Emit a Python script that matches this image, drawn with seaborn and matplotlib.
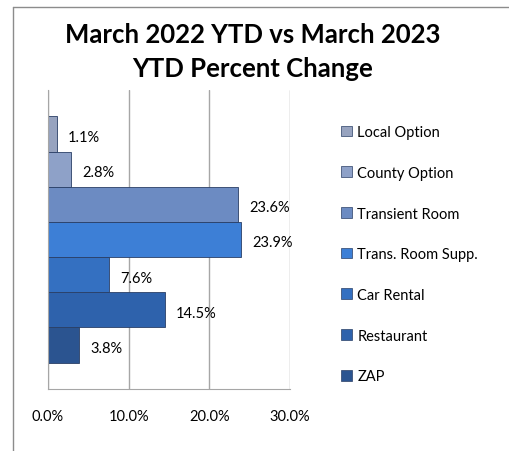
import numpy as np
import pandas as pd
import matplotlib
matplotlib.use("Agg")
import matplotlib.pyplot as plt
import seaborn as sns
from matplotlib.patches import Patch
from matplotlib.lines import Line2D

# tax categories and YTD percent change (March 2022 vs March 2023)
categories = ["Local Option", "County Option", "Transient Room", "Trans. Room Supp.",
              "Car Rental", "Restaurant", "ZAP"]
pct_change = [1.1, 2.8, 23.6, 23.9, 7.6, 14.5, 3.8]
bar_colors = ["#97a3bf", "#8ea1c8", "#6c8bc2", "#3d7fd6", "#3470c1", "#2e62ac", "#2b5490"]
x_ticks = [0, 10, 20, 30]

df = pd.DataFrame({"category": categories, "pct": pct_change})

sns.set_style("white")
plt.rcParams['font.family'] = ['Lato', 'DejaVu Sans']

fig = plt.figure(figsize=(5.09, 4.52), dpi=100)
ax = fig.add_axes([0.0943, 0.137, 0.4754, 0.6617])

sns.barplot(data=df, x="pct", y="category", hue="category", palette=bar_colors,
            orient="h", width=1.0, legend=False, ax=ax, saturation=1,
            edgecolor="#2a3f66", linewidth=0.6)

ax.set_xlim(0, 30)
ax.set_ylim(6.5 + 0.75, -0.5 - 0.75)
ax.set_xticks(x_ticks)
ax.set_xticklabels([f"{t:.1f}%" for t in x_ticks], fontsize=10.5, color="black")
ax.set_yticks([-1.25, 7.25])
ax.set_yticklabels([])
ax.set_xlabel("")
ax.set_ylabel("")
ax.xaxis.grid(True, color="#a6a6a6", linewidth=1)
ax.set_axisbelow(True)
for s in ["top", "right"]:
    ax.spines[s].set_visible(False)
for s in ["left", "bottom"]:
    ax.spines[s].set_color("#a6a6a6")
ax.tick_params(axis="x", length=5, color="#a6a6a6", pad=9)
ax.tick_params(axis="y", length=5, color="#a6a6a6")
ax.spines["bottom"].set_bounds(0, 30)

# value labels to the right of each bar
for i, v in enumerate(pct_change):
    ax.text(v + 1.4, i + 0.08, f"{v:.1f}%", va="center", ha="left", fontsize=10.5,
            color="black")

# legend
handles = [Patch(facecolor=c, edgecolor="#2a3f66", linewidth=0.5) for c in bar_colors]
fig.legend(handles, categories, loc="upper left", bbox_to_anchor=(0.645, 0.75),
           frameon=False, fontsize=10.5, handlelength=0.75, handleheight=0.75,
           handletextpad=0.35, labelspacing=1.83, labelcolor="black")

fig.text(0.497, 0.95, "March 2022 YTD vs March 2023\nYTD Percent Change",
         ha="center", va="top", fontsize=18.5, fontweight="bold", linespacing=1.5,
         color="black")

# chart frame border
fig.add_artist(Line2D([13 / 509, 13 / 509], [0, 1 - 8 / 452], color="#8c8c8c", linewidth=1))
fig.add_artist(Line2D([13 / 509, 1], [1 - 8 / 452, 1 - 8 / 452], color="#8c8c8c", linewidth=1))

fig.savefig("out.png", dpi=100)
